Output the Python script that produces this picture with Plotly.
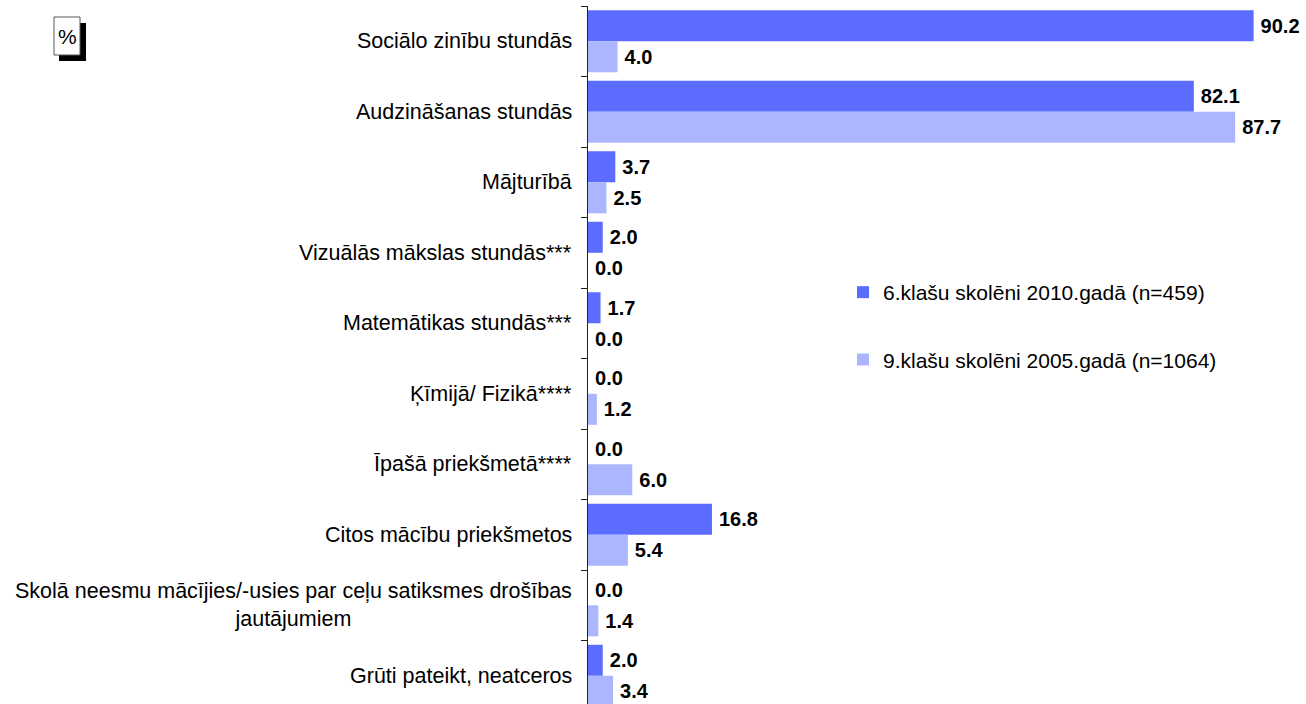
import plotly.graph_objects as go

categories = [
    "Sociālo zinību stundās",
    "Audzināšanas stundās",
    "Mājturībā",
    "Vizuālās mākslas stundās***",
    "Matemātikas stundās***",
    "Ķīmijā/ Fizikā****",
    "Īpašā priekšmetā****",
    "Citos mācību priekšmetos",
    "Skolā neesmu mācījies/-usies par ceļu satiksmes drošības<br>jautājumiem",
    "Grūti pateikt, neatceros",
]
series_names = ["6.klašu skolēni 2010.gadā (n=459)", "9.klašu skolēni 2005.gadā (n=1064)"]
values_6 = [90.2, 82.1, 3.7, 2.0, 1.7, 0.0, 0.0, 16.8, 0.0, 2.0]
values_9 = [4.0, 87.7, 2.5, 0.0, 0.0, 1.2, 6.0, 5.4, 1.4, 3.4]
colors = ["#5b6cff", "#abb6ff"]
unit_label = "%"

W, H = 1306, 704
FONT = "Liberation Sans, Arial, sans-serif"
M_T, M_B, M_L, M_R = 6, 0, 0, 0

fig = go.Figure()
for name, vals, col in zip(series_names, [values_6, values_9], colors):
    fig.add_trace(go.Bar(
        y=categories, x=vals, name=name, orientation="h",
        marker=dict(color=col, line=dict(width=0)),
        text=vals, texttemplate="\u2009%{x:.1f}", textposition="outside",
        textfont=dict(family=FONT, size=20, color="black", weight="bold"),
        cliponaxis=False, constraintext="none", legendgroup=name,
    ))

def px_x(px):
    return (px - M_L) / (W - M_L - M_R)

def px_y(py):
    return (H - M_B - py) / (H - M_T - M_B)

annotations = []
for c in categories:
    annotations.append(dict(
        x=px_x(574), xref="paper", xanchor="right", y=c, yref="y", yanchor="middle",
        text=c, showarrow=False, align="center",
        font=dict(family=FONT, size=21.5, color="black"),
    ))
annotations.append(dict(
    x=px_x(67), y=px_y(36), xref="paper", yref="paper", xanchor="center", yanchor="middle",
    text=unit_label, showarrow=False, font=dict(family=FONT, size=21, color="black"),
))

shapes = [
    dict(type="rect", xref="paper", yref="paper", x0=px_x(59), x1=px_x(86), y0=px_y(61), y1=px_y(23),
         fillcolor="black", line=dict(width=0), layer="above"),
    dict(type="rect", xref="paper", yref="paper", x0=px_x(54), x1=px_x(80), y0=px_y(55), y1=px_y(17),
         fillcolor="white", line=dict(color="#555555", width=1), layer="above"),
]

fig.update_layout(
    width=W, height=H,
    margin=dict(l=M_L, r=M_R, t=M_T, b=M_B),
    barmode="group", bargap=0.12, bargroupgap=0,
    plot_bgcolor="white", paper_bgcolor="white",
    font=dict(family=FONT, size=20, color="black"),
    xaxis=dict(domain=[px_x(588), 1], range=[0, 97.3], visible=False, fixedrange=True),
    yaxis=dict(range=[len(categories) - 0.6, -0.5], showticklabels=False, showline=True,
               linecolor="#222222", linewidth=1, ticks="outside", tickson="boundaries",
               ticklen=6, tickcolor="#222222", showgrid=False, zeroline=False, fixedrange=True),
    legend=dict(x=px_x(843), y=px_y(272), xanchor="left", yanchor="top", orientation="v",
                font=dict(family=FONT, size=21, color="black"), tracegroupgap=37,
                bgcolor="rgba(0,0,0,0)", traceorder="grouped"),
    annotations=annotations, shapes=shapes,
    showlegend=True,
)

fig.write_html("out.html", config={"displayModeBar": False},
               post_script="document.body.style.margin='0px';")
